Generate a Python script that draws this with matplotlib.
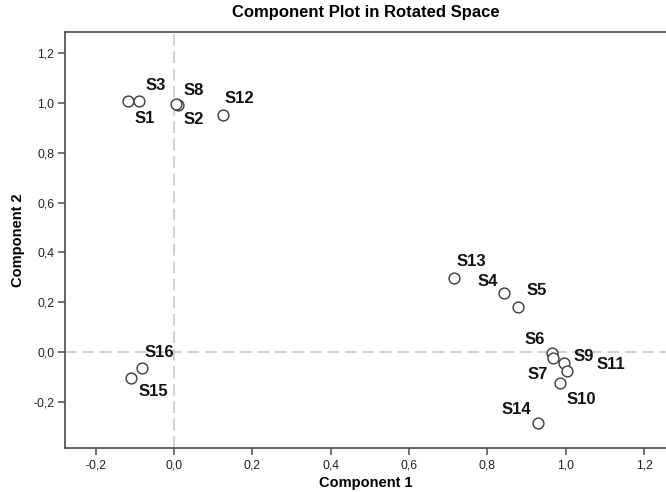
import numpy as np
import matplotlib
matplotlib.use("Agg")
from matplotlib import pyplot as plt

plt.rcParams['font.family'] = ['Liberation Sans', 'DejaVu Sans']

# component loadings
names = ['S1', 'S2', 'S3', 'S4', 'S5', 'S6', 'S7', 'S8',
         'S9', 'S10', 'S11', 'S12', 'S13', 'S14', 'S15', 'S16']
comp1 = [-0.117, 0.010, -0.091, 0.843, 0.879, 0.964, 0.968, 0.005,
         0.996, 0.985, 1.002, 0.124, 0.714, 0.928, -0.109, -0.081]
comp2 = [1.008, 0.990, 1.008, 0.237, 0.183, -0.004, -0.024, 0.996,
         -0.044, -0.124, -0.075, 0.950, 0.299, -0.281, -0.101, -0.064]
ticks = [-0.2, 0.0, 0.2, 0.4, 0.6, 0.8, 1.0, 1.2]

# label offsets from each marker, in pixels
label_off = {
    'S1': (16, -18), 'S2': (16, -14), 'S3': (17, 15), 'S4': (-17, 12),
    'S5': (18, 16), 'S6': (-17, 14), 'S7': (-16, -16), 'S8': (18, 13),
    'S9': (20, 7), 'S10': (21, -16), 'S11': (44, 7), 'S12': (17, 17),
    'S13': (18, 16), 'S14': (-21, 13), 'S15': (22, -14), 'S16': (17, 16),
}

fig = plt.figure(figsize=(6.66, 4.92), dpi=100)
ax = fig.add_axes([65.3 / 666, 44 / 492, 1 - 65.3 / 666, 416 / 492])

ax.axhline(0, color='#d0d0d0', lw=1.4, ls=(0, (6, 3)), zorder=1)
ax.axvline(0, color='#d0d0d0', lw=1.4, ls=(0, (6, 3)), zorder=1)

ax.plot(comp1, comp2, 'o', ms=7.8, mfc='white', mec='#3a3a3a', mew=1.0,
        ls='none', zorder=3)

for n, x, y in zip(names, comp1, comp2):
    dx, dy = label_off[n]
    ax.annotate(n, (x, y), xytext=(dx, dy), textcoords='offset pixels',
                ha='center', va='center', fontsize=12, fontweight='bold',
                color='#111111', zorder=4)

ax.set_xlim(-0.278, 1.256)
ax.set_ylim(-0.383, 1.283)
ax.set_xticks(ticks)
ax.set_yticks(ticks)
ax.set_xticklabels([f'{t:.1f}'.replace('.', ',') for t in ticks])
ax.set_yticklabels([f'{t:.1f}'.replace('.', ',') for t in ticks])
ax.tick_params(length=5, width=1.1, color='#4a4a4a', labelsize=8.8,
               labelcolor='#222222', pad=3)

for s in ['left', 'bottom', 'top']:
    ax.spines[s].set_color('#4a4a4a')
    ax.spines[s].set_linewidth(1.2)
ax.spines['right'].set_visible(False)

ax.set_xlabel('Component 1', fontsize=10.5, fontweight='bold', labelpad=3.5)
ax.set_ylabel('Component 2', fontsize=10.5, fontweight='bold', labelpad=6)
ax.set_title('Component Plot in Rotated Space', fontsize=12,
             fontweight='bold', pad=11)

fig.savefig('out.png', dpi=100)
